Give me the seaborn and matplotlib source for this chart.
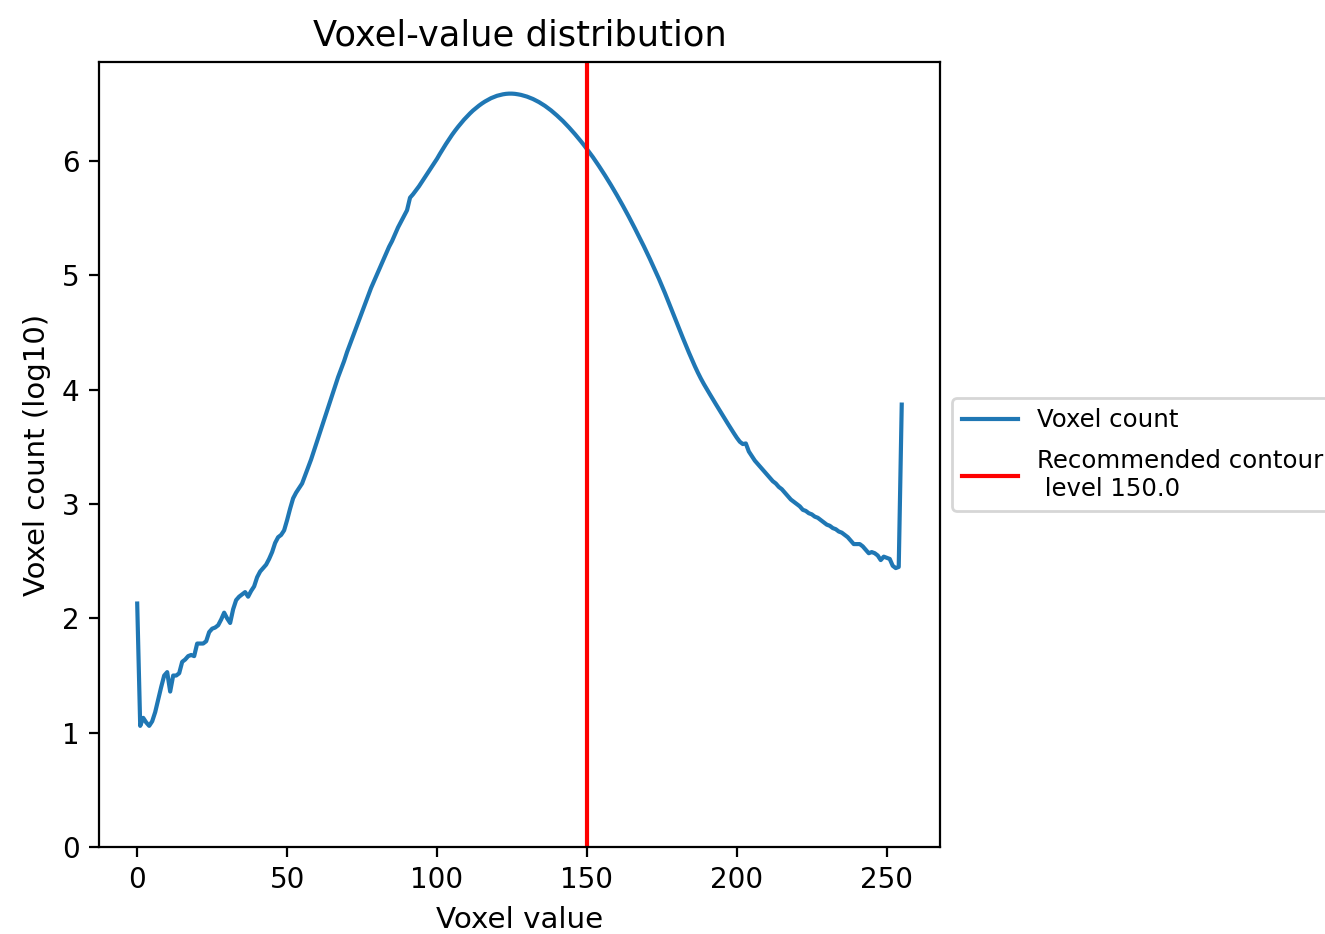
import numpy as np
import pandas as pd
import matplotlib
matplotlib.use("Agg")
import matplotlib.pyplot as plt
import seaborn as sns

# voxel values 0..255 and log10 counts
voxel_values = np.arange(256)
log_counts = [
    2.13, 1.06, 1.13, 1.09, 1.06, 1.10, 1.18, 1.29, 1.40, 1.50,
    1.53, 1.36, 1.50, 1.50, 1.52, 1.62, 1.64, 1.67, 1.68, 1.67,
    1.78, 1.78, 1.78, 1.80, 1.88, 1.91, 1.92, 1.94, 1.99, 2.05,
    2.00, 1.96, 2.08, 2.16, 2.19, 2.21, 2.23, 2.19, 2.24, 2.28,
    2.36, 2.41, 2.44, 2.47, 2.52, 2.58, 2.66, 2.71, 2.73, 2.77,
    2.86, 2.96, 3.05, 3.10, 3.14, 3.18, 3.25, 3.32, 3.39, 3.47,
    3.55, 3.63, 3.71, 3.79, 3.87, 3.95, 4.03, 4.11, 4.18, 4.25,
    4.33, 4.40, 4.47, 4.54, 4.61, 4.68, 4.75, 4.82, 4.89, 4.95,
    5.01, 5.07, 5.13, 5.19, 5.25, 5.30, 5.36, 5.42, 5.47, 5.52,
    5.57, 5.68, 5.71, 5.745, 5.78, 5.82, 5.86, 5.90, 5.94, 5.98,
    6.02, 6.065, 6.108, 6.15, 6.19, 6.229, 6.265, 6.299, 6.331, 6.362,
    6.39, 6.417, 6.442, 6.464, 6.485, 6.504, 6.521, 6.536, 6.55, 6.561,
    6.571, 6.578, 6.584, 6.588, 6.59, 6.59, 6.588, 6.584, 6.579, 6.572,
    6.564, 6.554, 6.543, 6.53, 6.516, 6.50, 6.483, 6.464, 6.444, 6.422,
    6.399, 6.375, 6.35, 6.323, 6.295, 6.266, 6.236, 6.205, 6.173, 6.14,
    6.105, 6.07, 6.034, 5.996, 5.957, 5.917, 5.876, 5.834, 5.791, 5.747,
    5.702, 5.656, 5.609, 5.561, 5.512, 5.462, 5.411, 5.359, 5.307, 5.254,
    5.20, 5.144, 5.087, 5.029, 4.971, 4.91, 4.847, 4.782, 4.716, 4.65,
    4.584, 4.518, 4.453, 4.389, 4.326, 4.265, 4.206, 4.15, 4.098, 4.05,
    4.005, 3.961, 3.917, 3.874, 3.831, 3.788, 3.745, 3.703, 3.661, 3.62,
    3.58, 3.545, 3.525, 3.53, 3.46, 3.42, 3.38, 3.35, 3.32, 3.29,
    3.26, 3.23, 3.20, 3.18, 3.15, 3.13, 3.10, 3.07, 3.04, 3.02,
    3.00, 2.98, 2.95, 2.94, 2.92, 2.91, 2.89, 2.88, 2.86, 2.84,
    2.82, 2.81, 2.79, 2.78, 2.76, 2.75, 2.73, 2.71, 2.68, 2.65,
    2.65, 2.65, 2.63, 2.60, 2.57, 2.58, 2.57, 2.55, 2.51, 2.54,
    2.53, 2.52, 2.46, 2.44, 2.45, 3.87,
]
contour_level = 150.0

df = pd.DataFrame({"Voxel value": voxel_values, "Voxel count (log10)": log_counts})

fig = plt.figure(figsize=(6.625, 4.67), dpi=200)
ax = fig.add_axes([0.0747, 0.0931, 0.6347, 0.8405])

sns.lineplot(x="Voxel value", y="Voxel count (log10)", data=df, ax=ax,
             color="#1f77b4", label="Voxel count")
ax.axvline(contour_level, color="red",
           label=f"Recommended contour\n level {contour_level}")
ax.set_ylim(bottom=0)
ax.set_title("Voxel-value distribution", fontsize=12.7)
ax.set_xlabel("Voxel value", fontsize=10.6)
ax.set_ylabel("Voxel count (log10)", fontsize=10.5)
ax.legend(loc="center left", bbox_to_anchor=(1, 0.5), fontsize=8.8,
          handlelength=2.3, handletextpad=0.75, labelspacing=0.7)

fig.savefig("out.png", dpi=200)
